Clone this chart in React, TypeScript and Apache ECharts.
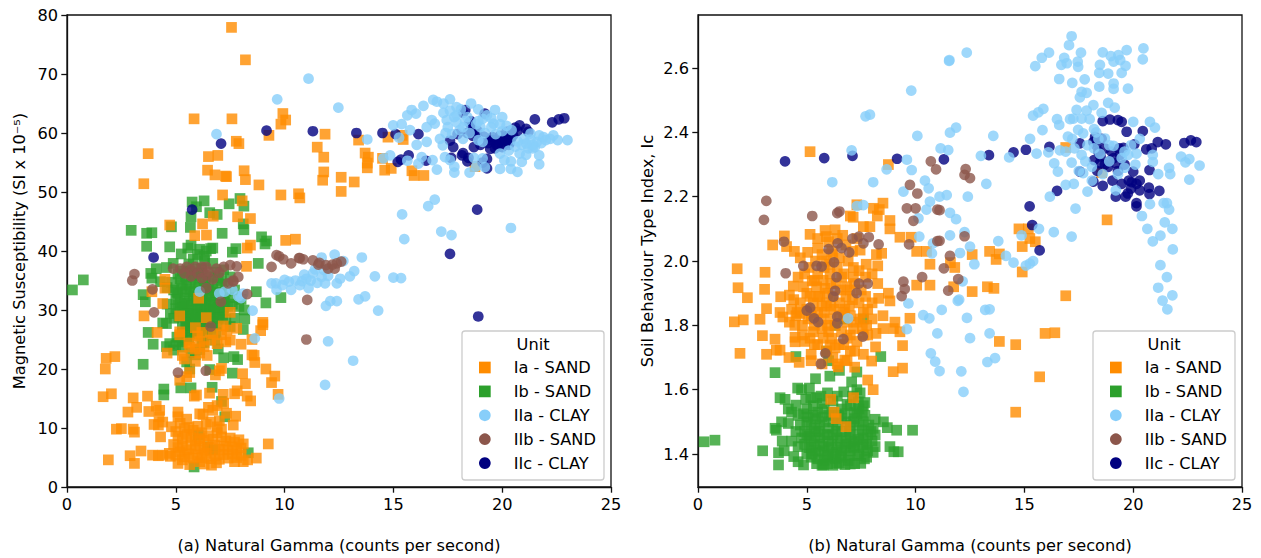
import React, { useEffect, useRef } from "react";
import * as echarts from "echarts";

const unitNames = ["Ia - SAND", "Ib - SAND", "IIa - CLAY", "IIb - SAND", "IIc - CLAY"];
const unitColors = ["#ff8c00", "#2ca02c", "#87cefa", "#8c564b", "#000080"];
const xTicks = [0, 5, 10, 15, 20, 25];
const yTicksA = [0, 10, 20, 30, 40, 50, 60, 70, 80];
const yTicksB = [1.4, 1.6, 1.8, 2.0, 2.2, 2.4, 2.6];

const iaA = [[7.56,77.9],[8.2,72.4],[5.84,62.4],[7.58,62.4],[9.92,63.3],[10.05,62.2],[9.83,61.5],[9.28,59.6],[7.78,58.6],[7.9,58.2],[3.73,56.5],[6.93,56.2],[6.5,56],[6.46,53.7],[6.8,52.9],[7.28,52.7],[7.33,52.6],[8.14,53.6],[8.2,52.1],[8.82,51.2],[3.53,51.4],[7.15,49.5],[9.83,49.5],[10.64,49.7],[10.7,49],[8.05,48.5],[7.84,45.8],[8.43,45.5],[6.72,45.9],[6.23,44.6],[4.72,44.4],[5.87,42.6],[6.41,42.7],[10.05,41.8],[10.5,42],[8.43,41],[8.28,40.5],[8.25,37.4],[4.5,35.2],
[11.86,59.8],[11.5,57.6],[13.4,58.8],[14.75,59.3],[15.4,59.6],[15.45,58.9],[13.7,56.6],[13.85,55.9],[13.8,54.9],[13.8,54.1],[11.8,55.9],[11.8,53.4],[11.75,52],[12.6,52.5],[13.2,51.7],[12.6,50.1],[14.5,55.7],[14.6,53.7],[14.9,54],[15.85,53.6],[15.95,52.8],[16.4,52.8],[18.75,54.3],
[4.5,33.7],[3.9,33.1],[4.4,31.1],[6.05,32],[3.54,29],[5.18,29],[6.4,28.7],[7.5,29.6],[9,27.9],[9,27.5],[8.9,26.5],[7.8,26.9],[7.18,27.3],[4.14,26.2],[5.18,26.3],[5.18,25.8],[6,25.6],[6.1,24.6],[6.7,26],[7.1,25.8],[7.5,24.9],[8,24.2],[8.5,25],[6.6,24.9],[5.64,23.7],[5.3,22.3],[6.1,22.7],[6.44,22.3],[4.6,22.7],[8.5,22.4],[8.6,22.3],[8.63,21.1],[1.8,21.8],[2.2,22.1],[1.76,20],[9.14,20],[9.55,18.8],[9.4,17.7],[8.07,19.2],[8.2,17.5],[7.1,20.1],[7,19.7],[6.82,19],[5.64,19.4],[5.5,18.7],[5.18,18.1],[5.95,15.6],[5.85,15.4],[7.18,15.7],[7.7,15.8],[7.82,16.3],[8.28,15.4],[8.44,14.6],[9.7,15.7],[1.66,15.3],[2.04,15.8],[3.04,15.1],[3.2,13.5],[2.8,12.7],[3.7,15.4],[3.76,12.8],[4.1,13.7],[4.26,13],[4.23,11.9],[4,10.6],[4.2,10.5],[4.4,11],[2.27,9.8],[2.5,9.9],[3.04,9.8],[3.1,9.3],[5.1,12.7],[5.1,11.9],[6.5,13.5],[6.1,12.4],[6.25,12.3],[6.7,13],[7.33,12.5],[7.75,12],[7.64,10.5],[4.3,8.5],[9.25,7.3],[8.7,4.9],[8.3,4.6],[1.9,4.6],[2.9,5.3],[3.1,4],[3.4,6.1],[3.93,5.4],[4.2,5.3],[4.4,5.4],[4.75,5.2],[5.1,4],[5.64,3.8],[6.1,4.3],[6.64,3.7],[6.87,4.1],[7.7,4.3],[8.1,4.3],
[4.8,10.2],[5,9.4],[5.2,10.8],[5.4,9.9],[5.6,10.1],[5.8,9.6],[6,10.3],[6.2,9.2],[6.4,10.6],[5.1,8.6],[5.3,8.1],[5.5,8.9],[5.7,8.4],[5.9,7.8],[6.1,8.2],[6.3,7.9],[6.5,8.7],[6.7,8.1],[6.9,9.2],[7.1,8.5],[7.3,7.8],[7.5,8.3],[7.7,7.6],[7.9,8],[8.1,7.3],[4.9,7.2],[5.1,6.7],[5.3,7],[5.5,6.3],[5.7,7.1],[5.9,6.5],[6.1,6.9],[6.3,6.2],[6.5,6.7],[6.8,7.1],[7,6.4],[7.2,6.9],[7.4,6.3],[7.6,6.8],[7.8,6.2],[8,6.6],[4.7,5.7],[5,5.4],[5.2,5.9],[5.4,5.1],[5.6,5.6],[5.8,4.9],[6,5.4],[6.2,5],[6.4,5.7],[6.6,4.8],[6.8,5.3],[7,4.7],[7.2,5.5],[7.4,4.9],[7.6,5.6],[7.8,5],[8,5.4],[5.5,11.5],[7,11.2],[6.6,11],[7.1,9.8],[6.9,10.2],[5.3,4.6],[6.3,3.9],
[5.6,24.4],[5.9,23.4],[6.3,23.8],[6.9,24.3],[7.3,24.6],[5.4,21.7],[5.9,21.3],[6.2,26.2],[5.9,27],[7.35,26.6],[6.55,15.9],[7.2,14.2],[6.9,13.8]];
const ibA = [[2.95,43.5],[3.66,43],[3.9,43.1],[3.66,40.8],[4.8,44.1],[4.72,40.7],[5.75,48.3],[6.3,48.5],[5.95,47.5],[5.7,45.8],[6.56,46.5],[6.9,46.2],[7.45,48],[7.95,48.9],[8.13,47.6],[8.1,44.6],[8.13,43.6],[5.67,44],[7.13,43],[5.55,40.5],[5.7,41],[6.1,40.3],[6.6,40.4],[6.4,40],[6.7,40.5],[8.94,42.4],[9.17,41.7],[9.1,41.2],[7.6,39.8],[7.76,40.4],[8.79,37.9],[4.88,37.9],[4.1,37],[4.57,37.2],[6.33,38.3],[0.75,35.1],[0.25,33.4],
[3.5,32.6],[3.6,31.4],[3.73,26.2],[3.96,24.2],[4.4,27.8],[4.57,27.7],[4.57,23.8],[4.72,24.3],[3.5,20.8],[5.5,21.2],[5.64,20],[6.56,19.9],[7.2,21.9],[7.67,22.1],[7.84,21.6],[7.6,19.3],[4.45,16.6],[4.45,15.6],[5.23,16.8],[5.7,16.8],[6.67,16.9],[7.1,14.5],[7.25,11.9],[6.46,6.8],[6.7,6.3],[8.33,5.8],[6.03,8.8],[5.84,3.4],[8.7,33.1],[9.14,31.2],[9.83,32.1],[8.14,30],[8.17,28.5],[8.1,26.7],[6.95,23.4],
[3.85,36.2],[3.9,35.4],[4.3,34.8],[4.6,33.8],[4.9,33.4],[5.1,32.8],[5.3,33.6],[5.5,34.2],[5.7,35.1],[5.9,34.5],[6.1,35.4],[6.3,33.9],[6.5,34.6],[6.7,33.5],[6.9,34.4],[7.1,35],[7.3,33.2],[7.5,32.1],[5,31.8],[5.2,31.2],[5.4,32],[5.6,31.5],[5.8,32.4],[6,31],[6.2,31.6],[6.4,32.2],[6.6,31.3],[6.8,32.4],[7,31],[7.2,31.7],[7.4,30.6],[5,30.2],[5.2,29.7],[5.4,30.6],[5.6,30],[5.8,29.4],[6,30.1],[6.2,29.5],[6.4,30.2],[6.6,29.4],[6.8,30.1],[7,29.3],[7.2,29.9],[4.9,28.6],[5.5,28.6],[5.7,28],[5.9,28.4],[6.1,27.7],[6.3,28.2],[6.5,27.4],[6.7,28],[6.9,27.3],[5.3,27.4],[5.5,26.9],[5.7,26.4],[5.9,25.9],[6.1,26.5],[6.4,25.8],[6.8,24.9],[5.2,24.6],[5,24],[4.9,23.2],[5.6,25.3],[5.7,22.8],[5.9,22.4],[6.3,24.5],[7.5,27.2],[7.7,28.6],[7.9,30.6],[8,31.8],[7.7,33.4],[5.3,36.6],[5.6,36.4],[5.9,36.9],[6.2,37],[6.8,36.4],[7.2,36.8],[5.8,38.6],[6,39.4],[6.3,39.1],
[5.05,33],[5.25,34.3],[5.45,33.1],[5.65,33.4],[5.85,33.1],[6.05,33.8],[6.25,32.7],[6.45,33.2],[6.65,32.6],[6.85,33],[7.05,32.8],[7.25,31.4],[5.1,30.9],[5.3,30.4],[5.5,31.1],[5.75,30.7],[5.95,31.7],[6.15,30.5],[6.35,31],[6.55,30.7],[6.75,30.9],[6.95,30.4],[7.15,28.9],[5.15,28.8],[5.35,29.1],[5.55,29.3],[5.75,28.8],[5.95,29.1],[6.15,28.7],[6.35,29],[6.55,28.5],[6.75,29.2],[6.95,28.6],[5.3,26],[5.45,27.8],[5.65,27.3],[5.85,26.6],[6.05,27.1],[6.25,26.9],[6.45,26.7],[6.65,26.9],[6.85,26.2],[5.2,35.3],[5.45,35.6],[5.8,35.8],[6.05,36.3],[6.35,34.9],[6.6,35.6],[6.95,35.4],[7.3,34.4],[7.5,35.6],[5.1,36.1],[4.8,34.7],[4.6,31],[4.75,29.4],[7.6,31],[7.3,28.4],[6.2,24.5],[5.5,24.9],[5.3,23.7],[5.05,25.4],[6.1,23.3],[5.6,37.8],[6.7,37.9],[5.25,39.5]];
const iiaA = [[11.1,69.2],[9.66,65.7],[6.87,59.8],[6.1,33.1],[7,32.8],[7.25,33.1],[7.6,33.4],[7.87,32.3],[8,32],[8.1,32.8],[8.53,29.9],[8.63,25.2],[9.75,15],[9.4,34.5],[9.6,34.5],[9.63,33.4],[10,35.1],[10.3,33.4],[10.7,34.2],[11.1,33.7],[11.3,36.2],[9.9,34.2],[10.2,34.8],[10.5,35],[10.8,34.9],[11,35.3],[11.2,35],[11.5,34.6],[11.7,35.6],[10.9,36],[11.4,36.9],[11.8,36.8],[12,35.8],[11.7,38.9],[12.3,39.4],[12.7,38.3],[13.55,38.9],[14.15,35.7],[15,35.5],[15.35,35.4],[13.2,36.6],[13,35.7],[12.55,35.3],[12.4,34.5],[11.86,34.5],[11.9,30.7],[12.1,31.5],[12.4,31.5],[13.4,31.8],[13.7,32.3],[14.3,29.9],[12,24.7],[13.15,21.4],[11.86,17.3],
[12.47,64.3],[14.99,61.3],[15.38,61.5],[15.64,63],[15.84,63.9],[16.04,63.3],[16.38,64.6],[16.83,65.6],[17,65.3],[17.3,65],[17.6,65.7],[17.9,64.4],[18.57,65],[13.8,58.9],[14.54,55.7],[14.85,56.2],[15.26,59.2],[15.76,60.5],[16.07,58],[16.53,58.5],[16.53,61],[16.76,62.2],[16.9,61.6],[15.64,55.3],[16.3,55.9],[16.15,54.8],[16.8,55.4],[17,53.8],[17.37,55.9],[17.6,55.4],[17.8,54.3],[17.8,53.3],[18.5,53.3],[17.14,59],[17.27,57.9],[20.7,53.4],[20.4,53.9],[19.9,53.9],[20.9,55.1],[20.4,55.2],[20.1,55.4],[21.7,54.7],[21.7,56.2],[20.8,56.5],[21.2,57.4],[21.6,58.5],[22.2,59],[22.55,58.8],[23,58.8],[22.35,59.6],[21.7,59.6],[21.4,57.4],[20.43,60.5],[20,60.3],[19.6,61.6],[19.67,63.9],[20,62.7],[19.1,62.4],[18.9,64],[18.4,62.7],[17.8,62.7],[17.45,62.2],[17.5,61],[18.05,60.5],[18.2,59],[18.9,58.8],[19.1,58.5],[18.7,55.8],[19.1,55.7],[18.8,54.3],[19.2,54.2],
[17.3,63.4],[17.6,63.8],[17.9,63],[18.1,64],[18.3,62],[17.4,60],[17.7,59.8],[17.9,61.8],[18.2,61],[18.5,60],[18.8,61.5],[19,61],[19.2,60],[19.5,61],[19.7,59.8],[19.9,61.5],[20.2,61.2],[19.3,63],[19.5,62.5],[18.9,62],[20.9,58],[21,59],[21.3,58.9],[21.5,57.6],[21.8,58.3],[21.1,56.3],[20.6,57.7],[20.3,57],[19.9,56.5],[15.4,46.2],[16.6,47.6],[16.9,48.7],[15.5,42],[17.2,43.3],[17.67,42.7],[20.4,43.9],[21.3,59.9],[21.1,58.2],[21.9,59.3],[21.4,58],[20.7,58.6],[22,58.8]];
const iibA = [[9.63,39.3],[9.75,39.1],[9.94,38.6],[10.3,37.9],[10.66,38.8],[10.86,38.6],[11.3,38.4],[11.55,37.7],[9.4,37.3],[4.88,37],[5.2,37],[5.5,37.3],[5.7,36.8],[5.9,37.3],[6.2,37.3],[6.4,37.3],[6.87,37],[7.2,37.3],[7.5,37.6],[7.8,37.4],[3.1,36.1],[3,35],[5.7,35.7],[6.4,35.9],[6.7,35.2],[7.64,34.8],[7.87,35.6],[7.64,35],[7.4,34.5],[6.4,33.7],[3.93,33.5],[8.28,32.7],[7.07,31.4],[4,29.6],[11.04,31.7],[6.6,27.2],[11,25],[5.1,19.4],[6.38,19.7],[11.6,38],[11.9,37.6],[12,37],[12.2,37.7],[12.4,37.9],[12.6,38.2],[12.3,37],[10.7,38.8],[5.4,36.2],[6,36.2],[6.2,35.4],[6.5,36.5],[7,36.3]];
const iicA = [[3.98,38.9],[5.75,47],[7.08,58.2],[9.17,60.4],[11.3,60.3],[13.3,60],[14.5,60],[15.1,59.8],[16.15,59.8],[15.2,55.1],[15.7,56.2],[16.5,55.3],[15.35,55.5],[17.6,58.7],[17.75,57.6],[18.2,56.6],[18.4,55.2],[18.7,57.6],[19.3,55.6],[19.3,54],[18.6,61],[18.3,63.9],[19.2,63.3],[19.45,58.8],[19.67,57.4],[20.1,58.2],[20.4,59],[20.8,61.3],[21.1,60.7],[21.2,60.2],[21.5,62.3],[22.3,61.8],[22.6,62.3],[22.85,62.5],[19.98,58.8],[19.6,58.8],[18.85,47],[17.6,39.5],[18.9,28.9],[18.5,61.8],[18.7,60.5],[18.4,60],[19.8,58],[20,57.6],[20.3,58],[20.5,59.6],[20.7,60.3],[19.9,59.5],[20.2,60.2],[19,58],
[18.65,59.5],[18.9,59.1],[19.15,59.4],[19.35,58.3],[19.55,59.3],[19.75,57.9],[19.9,58.6],[20.15,59],[20.25,59.5],[20.4,60.4],[20.6,60.9],[20.35,58.3],[19.45,57.3],[18.55,62],[18.6,60.3],[18.85,60.4],[18.15,56.2],[18.45,55.8],[17.65,55.8],[19.1,55],[18.2,63.4],[17.95,59.8]];

const iaB = [[5.15,2.34],[8.75,2.3],[8.5,2.18],[7.3,2.175],[8.06,2.164],[8.33,2.16],[8.24,2.14],[7,2.14],[7.13,2.136],[8.82,2.126],[8.82,2.1],[7.9,2.107],[7.6,2.107],[6.3,2.097],[5.84,2.095],[5.15,2.083],[3.97,2.078],[3.43,2.05],[4.07,2.045],[4.43,2.03],[5.04,2.027],[5.5,2.04],[5.5,2.07],[5.9,2.076],[9.28,2.074],[9.8,2.074],[10.05,2.03],[10.5,2.03],[10.66,1.99],[1.8,1.976],[3.08,1.965],[7.73,1.99],[8.26,1.985],[7.14,1.98],[8.44,2.024],[8.2,2.02],[7.45,2.034],[7.14,1.95],[6.07,1.96],[5.25,1.938],[8.26,1.93],[10.05,1.925],[10.66,1.925],[1.84,1.917],[2.27,1.886],[3.06,1.912],[3.8,1.889],[4.2,1.894],[4.38,1.922],[5,1.9],[5.84,1.915],[6.83,1.92],[8.75,1.9],[8.3,1.884],[8.82,1.876],[3.15,1.852],[3.77,1.84],[3.9,1.826],[4.68,1.837],[1.67,1.811],[2.08,1.817],[2.85,1.819],[8.5,1.83],[9.74,1.822],[9.05,1.81],[8.98,1.79],[9.28,1.78],[8.5,1.79],[7.75,1.8],[2.96,1.768],[3.54,1.757],[4.46,1.763],[5.15,1.76],[8.18,1.775],[9.4,1.737],[8.16,1.733],[1.93,1.713],[3.15,1.71],[3.6,1.723],[3.77,1.723],[4.18,1.7],[4.65,1.685],[5.2,1.71],[7.98,1.689],[9.4,1.667],[8.97,1.656],[6.45,1.671],[6.75,1.692],[7.2,1.67],[6.07,1.739],[4.46,1.749],
[16.9,2.353],[18.8,2.128],[18.55,2.275],[14.75,2.1],[15.18,2.1],[15.25,2.07],[15.5,2.06],[14.9,2.045],[13.4,2.03],[13.85,2.022],[13.7,2.005],[12.6,2.02],[11.6,1.995],[11.8,1.98],[11.75,1.92],[12.6,1.905],[13.3,1.92],[13.6,1.915],[14.9,1.966],[16.9,1.892],[14.6,1.53],[15.7,1.64],[15.95,1.775],[16.4,1.777],[13.85,1.75],[14.6,1.74],
[4.7,2.01],[5.1,1.98],[5.4,2],[5.7,2.02],[6,2.06],[6.2,2.02],[6.5,2.01],[6.8,2.05],[7.1,2.03],[7.3,2.07],[4.6,1.95],[4.9,1.96],[5.5,1.96],[5.8,1.98],[6.1,1.93],[6.4,1.98],[6.7,1.96],[7.4,1.97],[7.7,1.95],[8,1.96],[4.4,1.88],[4.7,1.87],[5,1.85],[5.3,1.87],[5.6,1.89],[5.9,1.87],[6.2,1.89],[6.5,1.87],[6.8,1.89],[7.1,1.88],[7.4,1.87],[7.7,1.89],[8,1.87],[4.5,1.83],[4.8,1.8],[5.2,1.83],[5.5,1.84],[5.8,1.84],[6.1,1.82],[6.7,1.84],[7,1.83],[7.3,1.81],[7.6,1.84],[8,1.82],[4.8,1.77],[5.3,1.78],[5.7,1.79],[6,1.78],[6.3,1.8],[6.6,1.78],[7,1.77],[7.3,1.75],[7.6,1.77],[5.5,1.74],[5.9,1.72],[6.3,1.73],[6.7,1.74],[5.2,1.69],[5.7,1.68],[7.6,1.71],[6.2,1.7],[6.1,1.57],[6.25,1.53],[6.35,1.51],[6.8,1.485],[7.15,1.575],[7.8,1.63],[8.05,1.6],
[4.85,1.92],[5.15,1.89],[5.45,1.92],[5.7,1.86],[5.95,1.9],[6.1,1.86],[6.35,1.93],[6.55,1.91],[6.75,1.85],[6.95,1.86],[7.2,1.93],[7.5,1.91],[7.8,1.85],[5.05,1.82],[5.35,1.8],[5.65,1.82],[5.95,1.8],[6.25,1.85],[6.5,1.83],[6.85,1.81],[7.15,1.79],[7.45,1.82],[7.8,1.77],[5.35,1.74],[5.75,1.76],[6.15,1.76],[6.5,1.74],[6.85,1.76],[7.2,1.72],[5.9,2],[6.15,2.03],[6.4,2.07],[6.65,2.08],[6.9,2],[5.35,1.94],[5.75,1.94],[6.05,1.99],[6.6,1.95],[7,1.91],[4.55,1.84],[4.3,1.85],[4.2,1.81],[4.9,1.75],[6.4,1.68],[6.85,1.69],[7,1.72],[5.5,1.89],[5.2,1.84],[4.45,1.8],[7.55,1.79]];
const ibB = [[0.28,1.438],[0.78,1.443],[2.97,1.41],[3.7,1.404],[3.7,1.366],[3.96,1.41],[3.87,1.44],[3.54,1.653],[5.4,1.634],[6.06,1.642],[4.5,1.703],[3.54,1.48],[3.6,1.474],[3.84,1.5],[4.15,1.495],[4.58,1.605],[4.76,1.6],[5.12,1.605],[5.18,1.575],[3.77,1.575],[4,1.57],[4.5,1.552],[4.15,1.54],[4.3,1.53],[4.85,1.525],[6.7,1.593],[6.2,1.565],[5.7,1.557],[7.3,1.655],[7.06,1.624],[8.4,1.703],[7.37,1.562],[7.67,1.56],[7.67,1.52],[8.14,1.508],[8.52,1.5],[8.7,1.482],[9.13,1.474],[9.86,1.474],[8.82,1.423],[9,1.407],[9.2,1.407],[8.14,1.459],[8.14,1.423],[7.48,1.371],[7,1.369],[6.37,1.371],[5.76,1.366],[4.85,1.366],[4.6,1.376],[4.4,1.392],[4.6,1.423],[4.76,1.45],
[5,1.54],[5.3,1.55],[5.5,1.53],[5.8,1.54],[6,1.52],[6.6,1.54],[7,1.55],[7.2,1.53],[7.4,1.54],[7.6,1.55],[5,1.5],[5.2,1.49],[5.4,1.51],[5.6,1.49],[5.8,1.5],[6,1.48],[6.2,1.5],[6.4,1.49],[6.6,1.51],[6.8,1.5],[7,1.49],[7.2,1.51],[7.4,1.49],[7.6,1.5],[5,1.46],[5.2,1.45],[5.4,1.47],[5.6,1.45],[5.8,1.46],[6,1.44],[6.2,1.46],[6.4,1.45],[6.6,1.47],[6.8,1.45],[7,1.46],[7.2,1.44],[7.4,1.46],[7.6,1.45],[7.8,1.46],[8,1.44],[5.2,1.42],[5.4,1.41],[5.6,1.43],[5.8,1.41],[6,1.42],[6.2,1.4],[6.4,1.42],[6.6,1.41],[6.8,1.43],[7,1.41],[7.2,1.42],[7.4,1.4],[7.6,1.42],[7.8,1.41],[5.2,1.39],[5.5,1.385],[5.8,1.38],[6,1.39],[6.3,1.385],[6.6,1.39],[6.9,1.38],[5,1.4],[4.9,1.43],[6.3,1.8],[7.6,1.82],[6.7,1.82],[5.9,1.72],[6,1.69],[6.5,1.66],[7.3,1.6],
[5.3,1.52],[5.55,1.47],[5.7,1.515],[5.95,1.46],[6.15,1.53],[6.35,1.47],[6.55,1.44],[6.75,1.525],[6.95,1.47],[7.15,1.5],[7.35,1.445],[7.55,1.475],[7.75,1.43],[7.95,1.47],[8.05,1.405],[5.1,1.42],[5.35,1.44],[5.55,1.405],[5.75,1.425],[5.95,1.395],[6.15,1.43],[6.35,1.405],[6.55,1.395],[6.75,1.42],[6.95,1.395],[7.15,1.425],[7.35,1.395],[7.55,1.43],[7.75,1.39],[5.45,1.37],[5.7,1.365],[5.95,1.37],[6.2,1.365],[6.5,1.372],[6.75,1.367],[7.2,1.37],[7.65,1.385],[5.1,1.455],[5.35,1.48],[5.05,1.515],[4.7,1.49],[4.5,1.47],[4.3,1.44],[4.9,1.47],[6.45,1.52],[6.85,1.555],[7.1,1.58],[7.45,1.59],[7.3,1.525],[7.55,1.53],[7.85,1.49],[8.05,1.48],[5.65,1.58],[5.95,1.59],[5.45,1.575],[4.95,1.57],[6.4,1.58],[4.6,1.52],[5.25,1.4],[7.05,1.435]];
const iiaB = [[17.17,2.699],[17.05,2.671],[16.13,2.648],[15.8,2.632],[15.5,2.606],[16.83,2.632],[16.7,2.61],[16.95,2.615],[17.45,2.62],[17.6,2.648],[17.47,2.604],[18.6,2.649],[18.97,2.637],[19.32,2.64],[19.7,2.656],[20.47,2.661],[20.44,2.627],[19.1,2.62],[19.4,2.625],[19.65,2.607],[19.47,2.585],[18.47,2.61],[18.44,2.585],[18.85,2.583],[16.6,2.566],[17.2,2.554],[17.77,2.565],[18.44,2.542],[19.1,2.552],[19.1,2.535],[19.76,2.536],[17.63,2.526],[17.86,2.523],[17.55,2.509],[18.85,2.492],[19.15,2.477],[18.17,2.485],[17.4,2.47],[17.86,2.468],[18.55,2.461],[15.4,2.452],[15.64,2.462],[15.87,2.473],[16.5,2.441],[16.6,2.423],[17.1,2.441],[17.25,2.443],[17.63,2.443],[18,2.441],[15.83,2.407],[15.26,2.38],[13.57,2.389],[11.86,2.415],[11.58,2.399],[11.5,2.345],[11.15,2.35],[13,2.327],[14.3,2.322],[15.56,2.334],[16.1,2.338],[16.63,2.344],[17,2.387],[17.47,2.408],[17.7,2.397],[20,2.433],[20.77,2.433],[21,2.415],[19.1,2.358],[18.7,2.381],[17.63,2.33],[17.17,2.306],[16.37,2.304],[16.54,2.278],[16.17,2.2],[16.9,2.237],[17.27,2.24],[17.9,2.216],[17.7,2.273],[18.1,2.293],[18.47,2.333],[19.47,2.32],[19.77,2.33],[20.15,2.334],[20.9,2.308],[20.9,2.33],[21.15,2.27],[21.65,2.29],[21.7,2.27],[22.2,2.325],[22.4,2.307],[22.58,2.317],[23.05,2.297],[22.58,2.253],[17.35,2.163],[20.4,2.14],[20.77,2.177],[21.4,2.18],[21.55,2.18],[21.65,2.16],[21.45,2.12],[21.8,2.1],[20.65,2.1],[20.9,2.061],[21.25,2.079],[21.82,2.036],[21.25,1.987],[21.55,1.95],[21.15,1.917],[21.8,1.893],[21.35,1.877],[21.57,1.85],
[17.17,2.076],[16.35,2.09],[15.67,2.1],[14.87,2.08],[13.8,2.062],[12.5,2.045],[12.25,2.09],[11.58,2.08],[14.15,2.016],[14.5,1.995],[15.07,1.986],[15.4,2],[15.25,1.992],[12.7,1.99],[12.04,2.025],[12.16,1.937],[11.94,1.876],[13.2,1.848],[11.2,1.848],[13.25,2.24],[12.4,2.2],[11.43,2.205],[11.58,2.15],[11.86,2.13],[11.1,2.2],[12.35,2.648],[11.54,2.622],
[7.06,2.344],[10.08,2.389],[6.17,2.245],[8.05,2.245],[9.6,2.315],[9.82,2.283],[8.67,2.285],[9.44,2.216],[10.43,2.25],[10.6,2.226],[10.66,2.185],[10.5,2.16],[10.13,2.133],[7.3,2.171],[7.6,2.174],[10.17,2.076],[10.8,2.055],[10.75,2.024],[9.67,1.868],[10.35,1.832],[10.63,1.822],[9.6,1.788],[6.9,1.822],[11,1.775],[10.7,1.713],[10.9,1.687],[11.1,1.658],[12.1,1.657],[12.2,1.593],[13.3,1.686],[13.65,1.698],[13.4,1.775],[12.5,1.76],[13.4,1.85],[12.36,1.823],[12,1.88],[9.8,2.53],[7.7,2.45],[7.9,2.455],[11.55,2.625],[18.2,2.41],[18.4,2.38],[18.9,2.36],[17.9,2.36],[17.8,2.31],[18.2,2.35],[19.3,2.27],[19.6,2.29],[20.1,2.3],[19.9,2.36],[20.3,2.38],[18.6,2.27],[18.9,2.31],[18.1,2.25],[19.2,2.22],[19.6,2.34],[17.5,2.28],[17.3,2.35],[16.9,2.34],[18.3,2.4],[17.2,2.38]];
const iibB = [[3.14,2.187],[3.03,2.128],[5.25,2.14],[6.4,2.149],[6.5,2.154],[3.95,2.06],[4.03,1.962],[4.84,1.985],[5.45,1.985],[5.68,1.983],[6,2.037],[6.42,2.055],[6.6,2.04],[6.95,2.027],[7.1,2.07],[7.4,2.076],[7.6,2.055],[7.85,2.074],[8.3,2.052],[9.7,2.052],[6.25,1.996],[6.37,1.95],[7.4,1.93],[7.8,1.93],[7.29,1.9],[6.3,1.907],[6.22,1.889],[5.15,1.855],[5,1.846],[5.33,1.822],[5.52,1.81],[6.4,1.827],[6.4,1.806],[6.68,1.757],[7.57,1.765],[5.85,1.713],[5.65,1.68],[9.44,1.936],[9.5,1.913],[9.36,1.891],[10.3,1.95],[9.74,2.237],[10.08,2.21],[10.7,2.31],[10.94,2.285],[9.6,2.164],[10,2.164],[11,2.16],[9.9,2.125],[11,2.062],[12.3,2.286],[12.25,2.268],[12.5,2.258],[11.1,2.158],[11.1,2.063],[12.25,2.077],[11.58,2.016],[11.3,1.977],[11.96,1.944],[11.5,1.908]];
const iicB = [[4,2.31],[5.8,2.32],[7.1,2.327],[9.15,2.318],[11.3,2.316],[13.37,2.329],[14.5,2.338],[15.07,2.346],[16.15,2.355],[18.6,2.435],[18.93,2.44],[19.3,2.438],[19.47,2.433],[19.7,2.402],[20.44,2.404],[17.55,2.366],[18.25,2.386],[18.17,2.37],[18.7,2.35],[19,2.34],[19.55,2.352],[20.05,2.363],[20.6,2.347],[20.85,2.35],[21.13,2.37],[21.5,2.363],[22.35,2.367],[22.65,2.375],[22.9,2.37],[18.2,2.314],[18.47,2.304],[18.85,2.293],[19.2,2.304],[17.55,2.278],[18.17,2.247],[18.6,2.234],[19.47,2.24],[19.2,2.2],[19.65,2.2],[19.93,2.245],[20.15,2.24],[20.3,2.25],[20,2.278],[20.75,2.283],[20.72,2.228],[20.75,2.208],[21.2,2.218],[20.15,2.18],[16.5,2.218],[15.24,2.17],[15.36,2.112],[15.7,2.033],[18.4,2.34],[18.9,2.31],[19.4,2.33],[19.6,2.3],[20.15,2.17],[19.9,2.225],
[18.3,2.36],[18.5,2.325],[18.7,2.3],[19.1,2.32],[19.3,2.28],[19.05,2.25],[19.35,2.35],[19.8,2.25],[20.3,2.22],[19.75,2.21],[18.35,2.28],[18.55,2.38]];

const seriesA = [iaA, ibA, iiaA, iibA, iicA];
const seriesB = [iaB, ibB, iiaB, iibB, iicB];
const drawOrder = [1, 0, 4, 2, 3];
const legendIcons = ["rect", "rect", "circle", "circle", "circle"];
const INK = "#000";
const FONT = "'DejaVu Sans'";
const FS = 16.2;

function axisStyle(ticks: number[], fmt?: (v: number) => string) {
  return {
    axisLine: { show: true, onZero: false, lineStyle: { color: "#111", width: 1.3 } },
    axisTick: { show: true, length: 5.7, customValues: ticks, lineStyle: { color: "#111", width: 1.3 } },
    axisLabel: {
      show: true, color: INK, fontSize: FS, fontFamily: FONT, margin: 9, customValues: ticks, showMinLabel: true, showMaxLabel: true,
      formatter: fmt ? (v: number) => fmt(v) : undefined,
      hideOverlap: false,
    },
    splitLine: { show: false },
  };
}

function makeSeries(data: number[][][], idx: number) {
  return drawOrder.map((k) => ({
    type: "scatter",
    name: unitNames[k],
    xAxisIndex: idx,
    yAxisIndex: idx,
    data: data[k],
    symbol: k < 2 ? "rect" : "circle",
    symbolSize: 10.7,
    itemStyle: { color: unitColors[k], opacity: 0.8 },
    emphasis: { disabled: true },
    z: 2,
  }));
}

function makeLegend(left: number) {
  return {
    orient: "vertical" as const,
    left,
    top: 359.5,
    padding: 0,
    itemWidth: 11.7,
    itemHeight: 11.7,
    itemGap: 7.9,
    selectedMode: false,
    z: 20,
    itemStyle: { opacity: 1 },
    textStyle: { color: INK, fontSize: FS, fontFamily: FONT, padding: [0, 0, 0, 18] },
    data: unitNames.map((n, i) => ({ name: n, icon: legendIcons[i] })),
  };
}

function legendFrame(x: number) {
  return [
    { type: "rect", z: 10, shape: { x, y: 331, width: 142, height: 149, r: 3 }, style: { fill: "rgba(255,255,255,0.8)", stroke: "#ccc", lineWidth: 1.3 } },
    { type: "text", z: 11, x: x + 71, y: 344, style: { text: "Unit", fill: INK, font: `${FS}px ${FONT}`, textAlign: "center", textVerticalAlign: "middle" } },
  ];
}

const nameStyle = { color: INK, fontSize: FS, fontFamily: FONT };

export default function App() {
  const ref = useRef<HTMLDivElement>(null);
  useEffect(() => {
    const chart = echarts.init(ref.current!, undefined, { renderer: "svg" });
    chart.setOption({
      animation: false,
      backgroundColor: "#fff",
      textStyle: { fontFamily: FONT },
      grid: [
        { left: 67, top: 15, width: 544, height: 472, show: true, borderColor: "#111", borderWidth: 1.3, backgroundColor: "transparent", containLabel: false },
        { left: 698, top: 15, width: 544, height: 472, show: true, borderColor: "#111", borderWidth: 1.3, backgroundColor: "transparent", containLabel: false },
      ],
      xAxis: [
        { type: "value", gridIndex: 0, min: 0, max: 25, interval: 5, name: "(a) Natural Gamma (counts per second)", nameLocation: "middle", nameGap: 50, nameTextStyle: nameStyle, ...axisStyle(xTicks) },
        { type: "value", gridIndex: 1, min: 0, max: 25, interval: 5, name: "(b) Natural Gamma (counts per second)", nameLocation: "middle", nameGap: 50, nameTextStyle: nameStyle, ...axisStyle(xTicks) },
      ],
      yAxis: [
        { type: "value", gridIndex: 0, min: 0, max: 80, interval: 10, name: "Magnetic Susceptibility (SI x 10⁻⁵)", nameLocation: "middle", nameGap: 40, nameTextStyle: nameStyle, ...axisStyle(yTicksA) },
        { type: "value", gridIndex: 1, min: 1.2974, max: 2.765, name: "Soil Behaviour Type Index, Ic", nameLocation: "middle", nameGap: 43, nameTextStyle: nameStyle, ...axisStyle(yTicksB, (v) => v.toFixed(1)) },
      ],
      legend: [makeLegend(479), makeLegend(1110)],
      graphic: { elements: [...legendFrame(462), ...legendFrame(1093)] },
      series: [...makeSeries(seriesA, 0), ...makeSeries(seriesB, 1)],
    });
    return () => chart.dispose();
  }, []);
  return <div ref={ref} style={{ position: "fixed", left: 0, top: 0, width: 1261, height: 558, background: "#fff" }} />;
}
